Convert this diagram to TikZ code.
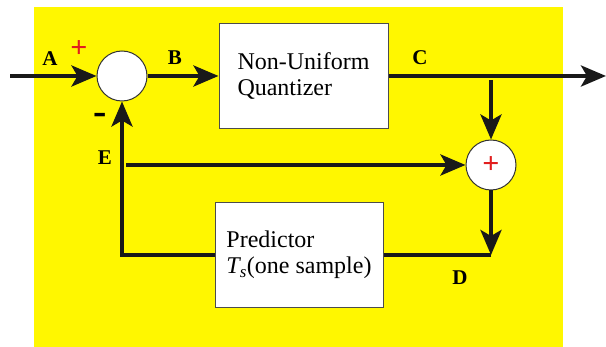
\documentclass[tikz,border=0pt]{standalone}
\usepackage{fontspec}
\setmainfont{LiberationSerif}[Extension=.ttf,UprightFont=*-Regular,BoldFont=*-Bold,
  ItalicFont=*-Italic,BoldItalicFont=*-BoldItalic]
\usetikzlibrary{arrows.meta,positioning}
\definecolor{bgyellow}{RGB}{255,247,0}
\definecolor{sgnred}{RGB}{225,30,30}

\begin{document}
\begin{tikzpicture}[x=1pt,y=-1pt,>={Stealth[length=25pt,width=21pt,inset=6pt]},
    sig/.style={line width=4pt,draw=black!90},
    blk/.style={draw=black!70,fill=white,line width=1pt,minimum width=169pt,minimum height=105pt,
      align=left,font=\fontsize{24}{26}\selectfont},
    junc/.style={circle,draw=black!80,fill=white,line width=1pt,minimum size=50pt,inner sep=0pt},
    lbl/.style={font=\fontsize{21}{21}\selectfont\bfseries},
    sgn/.style={text=sgnred,font=\fontsize{30}{30}\selectfont\bfseries,inner sep=0pt}]
  \useasboundingbox (0,0) rectangle (606,347);
  \fill[bgyellow] (34,7) rectangle (563,347);
  % blocks
  \node[junc] (sum) at (122,76) {};
  \node[blk] (quant) at (303.5,76) {Non-Uniform\\Quantizer};
  \node[junc] (add) at (491,165) {};
  \node[blk,minimum width=168pt] (pred) at (299,255) {Predictor\\{\itshape T}\textsubscript{\itshape s}(one sample)};
  \coordinate (in) at (10,76);
  \coordinate (out) at (606,76);
  \coordinate (tap) at (491,80);
  \coordinate (dpt) at (491,255);
  \coordinate (fb) at (122,255);
  \coordinate (etap) at (126,165);
  % signal lines
  \draw[sig,->] (in) -- (sum);
  \draw[sig,->] (sum) -- (quant);
  \draw[sig,->] (quant) -- (out);
  \draw[sig,->] (tap) -- (add);
  \draw[sig,->] (etap) -- (add);
  \draw[sig,->] (add) -- (dpt);
  \draw[sig] (dpt) -- (pred);
  \draw[sig,->] (pred) -- (fb) -- (sum);
  % labels
  \node[lbl] (la) at (50,59) {A};
  \node[lbl] (lb) at (175,58) {B};
  \node[lbl] (lc) at (420,58) {C};
  \node[lbl] (ld) at (460,278) {D};
  \node[lbl] (le) at (105,158) {E};
  \node[sgn] (pa) at (79,49) {+};
  \node[lbl,font=\fontsize{40}{40}\selectfont\bfseries] (ma) at (100,119) {-};
  \node[sgn] (pd) at (add) {+};
\end{tikzpicture}
\end{document}
